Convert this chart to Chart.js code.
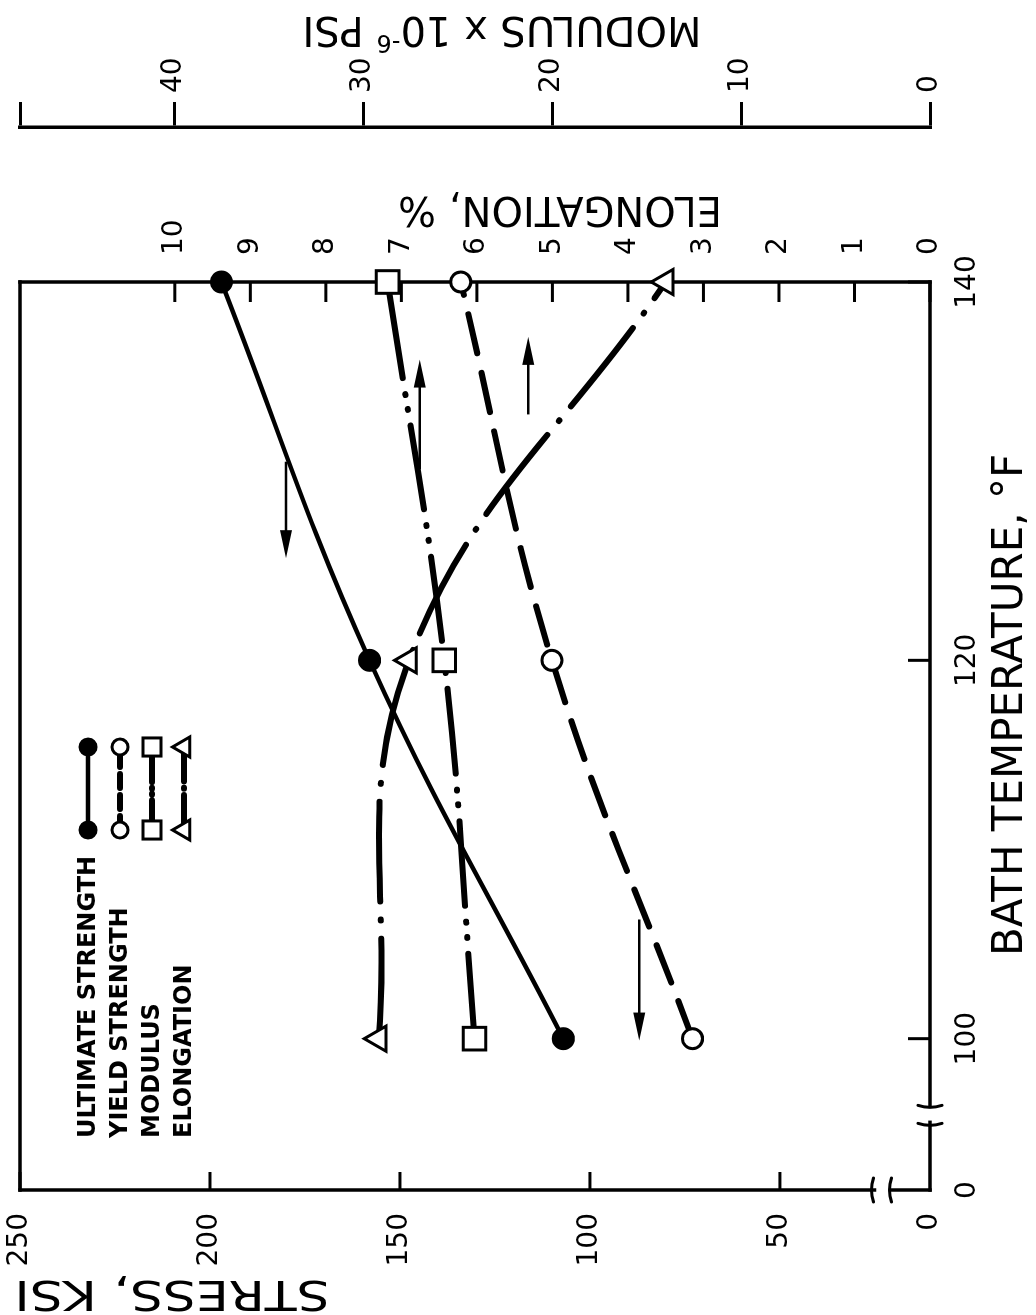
<!DOCTYPE html>
<html lang="en">
<head>
<meta charset="UTF-8">
<title>Bath temperature vs. properties</title>
<script src="https://cdn.jsdelivr.net/npm/chart.js"></script>
<style>
    html, body { margin: 0; padding: 0; width: 1036px; height: 1315px; overflow: hidden; background: #fff; }
    /* the figure is printed turned on its side: draw it upright, then turn it */
    #turn { position: absolute; left: 0; top: 0; width: 1315px; height: 1036px;
            transform-origin: 0 0; transform: translate(0, 1315px) rotate(-90deg); }
</style>
</head>
<body>
<div id="turn"><canvas id="plot" width="1315" height="1036"></canvas></div>
<script>
    // data
    const temps = [100, 120, 140];                 // bath temperature, F
    const ultimate = [107, 158, 197];              // ksi
    const yieldStr = [73, 110, 134];               // ksi
    const modulus = [24.1, 25.7, 28.7];            // x 10^6 psi
    const elongation = [7.3, 6.9, 3.5];            // %

    // axes (the low ends are broken: 92 F and 10.5 ksi stand for "0")
    const tempTicks = [92, 100, 120, 140];
    const stressTicks = [10.5, 50, 100, 150, 200, 250];
    const elongTicks = [0, 1, 2, 3, 4, 5, 6, 7, 8, 9, 10];
    const modTicks = [0, 10, 20, 30, 40, 48.15];
    const tempBreak = 96;
    const stressBreak = 23;

    // direction arrows: which axis a curve is read on
    const arrows = [
        { axis: "y", at: 180, from: 130.5, to: 125.4 },
        { axis: "y", at: 87, from: 106.3, to: 99.9 },
        { axis: "y3", at: 27.0, from: 130.1, to: 135.9 },
        { axis: "y2", at: 5.32, from: 133.0, to: 137.1 },
    ];

    const FONT = "'DejaVu Sans', sans-serif";
    const tickFont = { family: FONT, size: 28 };

    function pts(values) {
        return temps.map((t, i) => ({ x: t, y: values[i] }));
    }

    const series = [
        { label: "ULTIMATE STRENGTH", data: pts(ultimate), yAxisID: "y", dash: [], width: 4.5, style: "circle", r: 10, fill: "#000" },
        { label: "YIELD STRENGTH", data: pts(yieldStr), yAxisID: "y", dash: [40, 20], width: 6, style: "circle", r: 10, fill: "#fff" },
        { label: "MODULUS", data: pts(modulus), yAxisID: "y3", dash: [85, 16, 1, 14, 1, 16], width: 6, style: "rect", r: 16, fill: "#fff" },
        { label: "ELONGATION", data: pts(elongation), yAxisID: "y2", dash: [100, 18, 1, 18], width: 6, style: "triangle", r: 14.5, fill: "#fff" },
    ];

    function fixTicks(list) {
        return scale => { scale.ticks = list.map(v => ({ value: v })); };
    }

    // fixed box sizes, and no extra room asked for the end labels
    function fitTo(prop, size) {
        return scale => {
            scale[prop] = size;
            scale.paddingTop = scale.paddingBottom = scale.paddingLeft = scale.paddingRight = 0;
        };
    }

    function line(ctx, x1, y1, x2, y2) {
        ctx.beginPath();
        ctx.moveTo(x1, y1);
        ctx.lineTo(x2, y2);
        ctx.stroke();
    }

    const frame = {
        id: "frame",
        beforeDatasetsDraw(chart) {
            const { ctx, chartArea: a, scales } = chart;
            ctx.save();
            ctx.strokeStyle = "#000";
            ctx.lineWidth = 3.5;
            ctx.lineCap = "square";
            const tb = scales.x.getPixelForValue(tempBreak);
            const sb = scales.y.getPixelForValue(stressBreak);
            line(ctx, a.left, a.top, a.right, a.top);
            line(ctx, a.right, a.top, a.right, a.bottom);
            line(ctx, a.left, a.bottom, tb - 8, a.bottom);
            line(ctx, tb + 8, a.bottom, a.right, a.bottom);
            line(ctx, a.left, a.top, a.left, sb - 8);
            line(ctx, a.left, sb + 8, a.left, a.bottom);

            // break marks
            ctx.lineWidth = 3;
            ctx.lineCap = "round";
            [-9, 9].forEach(d => {
                ctx.beginPath();
                ctx.moveTo(tb + d, a.bottom - 12);
                ctx.quadraticCurveTo(tb + d - 4, a.bottom, tb + d, a.bottom + 12);
                ctx.stroke();
                ctx.beginPath();
                ctx.moveTo(a.left - 12, sb + d);
                ctx.quadraticCurveTo(a.left, sb + d - 4, a.left + 12, sb + d);
                ctx.stroke();
            });

            // inward tick marks
            ctx.lineWidth = 3;
            ctx.lineCap = "butt";
            scales.x.ticks.forEach(t => {
                if (t.value === tempTicks[0]) return;
                const p = scales.x.getPixelForValue(t.value);
                line(ctx, p, a.bottom, p, a.bottom - 22);
            });
            scales.y.ticks.forEach(t => {
                if (t.value === stressTicks[0]) return;
                const p = scales.y.getPixelForValue(t.value);
                line(ctx, a.left, p, a.left + 18, p);
            });
            scales.y2.ticks.forEach(t => {
                const p = scales.y2.getPixelForValue(t.value);
                line(ctx, a.right, p, a.right - 20, p);
            });
            ctx.restore();
        },
        afterDraw(chart) {
            const { ctx, scales } = chart;
            ctx.save();
            ctx.fillStyle = "#000";
            ctx.strokeStyle = "#000";

            // arrows
            arrows.forEach(ar => {
                const v = scales[ar.axis].getPixelForValue(ar.at);
                const x1 = scales.x.getPixelForValue(ar.from);
                const x2 = scales.x.getPixelForValue(ar.to);
                const dir = Math.sign(x2 - x1);
                ctx.lineWidth = 2.5;
                line(ctx, x1, v, x2 - dir * 20, v);
                ctx.beginPath();
                ctx.moveTo(x2, v);
                ctx.lineTo(x2 - dir * 28, v - 6);
                ctx.lineTo(x2 - dir * 28, v + 6);
                ctx.closePath();
                ctx.fill();
            });

            // axis titles
            ctx.textAlign = "center";
            ctx.textBaseline = "middle";
            ctx.font = "42px " + FONT;
            ctx.fillText("BATH TEMPERATURE, \u00B0F", 610, 1011);

            function upText(x, y, draw) {
                ctx.save();
                ctx.translate(x, y);
                ctx.rotate(-Math.PI / 2);
                draw();
                ctx.restore();
            }
            upText(24, 172, () => {
                ctx.font = "40px " + FONT;
                const w = ctx.measureText("STRESS, KSI").width;
                ctx.scale(315 / w, 1);
                ctx.fillText("STRESS, KSI", 0, 0);
            });
            upText(1108, 560, () => {
                ctx.font = "40px " + FONT;
                ctx.fillText("ELONGATION, %", 0, 0);
            });
            upText(1288, 502, () => {
                const a = "MODULUS x 10", b = "-6", c = " PSI";
                ctx.font = "40px " + FONT;
                const wa = ctx.measureText(a).width, wc = ctx.measureText(c).width;
                ctx.font = "24px " + FONT;
                const wb = ctx.measureText(b).width;
                let x = -(wa + wb + wc) / 2;
                ctx.textAlign = "left";
                ctx.font = "40px " + FONT;
                ctx.fillText(a, x, 0);
                ctx.font = "24px " + FONT;
                ctx.fillText(b, x + wa, -14);
                ctx.font = "40px " + FONT;
                ctx.fillText(c, x + wa + wb, 0);
            });

            // legend
            ctx.textAlign = "left";
            ctx.font = "bold 24px " + FONT;
            series.forEach((s, i) => {
                const y = 88 + 32 * i;
                ctx.fillStyle = "#000";
                ctx.fillText(s.label, 177, y + 1);
                ctx.lineWidth = s.width;
                ctx.lineCap = "round";
                ctx.setLineDash(s.dash.length ? s.dash.map(d => Math.max(1, d * 0.35)) : []);
                line(ctx, 485, y, 568, y);
                ctx.setLineDash([]);
                [485, 568].forEach(x => {
                    ctx.fillStyle = s.fill;
                    ctx.lineWidth = 3;
                    Chart.helpers.drawPoint(ctx, { pointStyle: s.style, radius: s.r * 0.8, rotation: 0, borderWidth: 3 }, x, y);
                });
            });
            ctx.restore();
        },
    };

    new Chart(document.getElementById("plot"), {
        type: "line",
        data: {
            datasets: series.map(s => ({
                label: s.label,
                data: s.data,
                yAxisID: s.yAxisID,
                borderColor: "#000",
                borderWidth: s.width,
                borderDash: s.dash,
                borderCapStyle: "round",
                tension: 0.4,
                pointStyle: s.style,
                pointRadius: s.r,
                pointBackgroundColor: s.fill,
                pointBorderColor: "#000",
                pointBorderWidth: 3,
                clip: false,
            })),
        },
        options: {
            responsive: false,
            animation: false,
            devicePixelRatio: 1,
            layout: { padding: { top: 20, left: 0, right: 0, bottom: 0 } },
            plugins: { legend: { display: false }, tooltip: { enabled: false } },
            scales: {
                x: {
                    type: "linear", position: "bottom", min: 92, max: 140,
                    grid: { display: false }, border: { display: false },
                    afterBuildTicks: fixTicks(tempTicks),
                    afterFit: fitTo("height", 106),
                    ticks: { padding: 13, font: tickFont, color: "#000", maxRotation: 0,
                             callback: v => v === tempTicks[0] ? "0" : v },
                },
                y: {
                    type: "linear", position: "left", min: 10.5, max: 250,
                    grid: { display: false }, border: { display: false },
                    afterBuildTicks: fixTicks(stressTicks),
                    afterFit: fitTo("width", 125),
                    ticks: { padding: 15, font: tickFont, color: "#000",
                             callback: v => v === stressTicks[0] ? "0" : v },
                },
                y2: {
                    type: "linear", position: "right", weight: 0, min: 0, max: 12.05,
                    grid: { display: false }, border: { display: false },
                    afterBuildTicks: fixTicks(elongTicks),
                    afterFit: fitTo("width", 155),
                    ticks: { padding: 19, font: tickFont, color: "#000" },
                },
                y3: {
                    type: "linear", position: "right", weight: 1, min: 0, max: 48.15,
                    grid: { display: true, drawOnChartArea: false, drawTicks: true, tickLength: 25, lineWidth: 3, color: "#000" },
                    border: { display: true, width: 3.5, color: "#000" },
                    afterBuildTicks: fixTicks(modTicks),
                    afterFit: fitTo("width", 127),
                    ticks: { padding: 9, font: tickFont, color: "#000",
                             callback: v => v > 45 ? "" : v },
                },
            },
        },
        plugins: [frame],
    });
</script>
</body>
</html>
